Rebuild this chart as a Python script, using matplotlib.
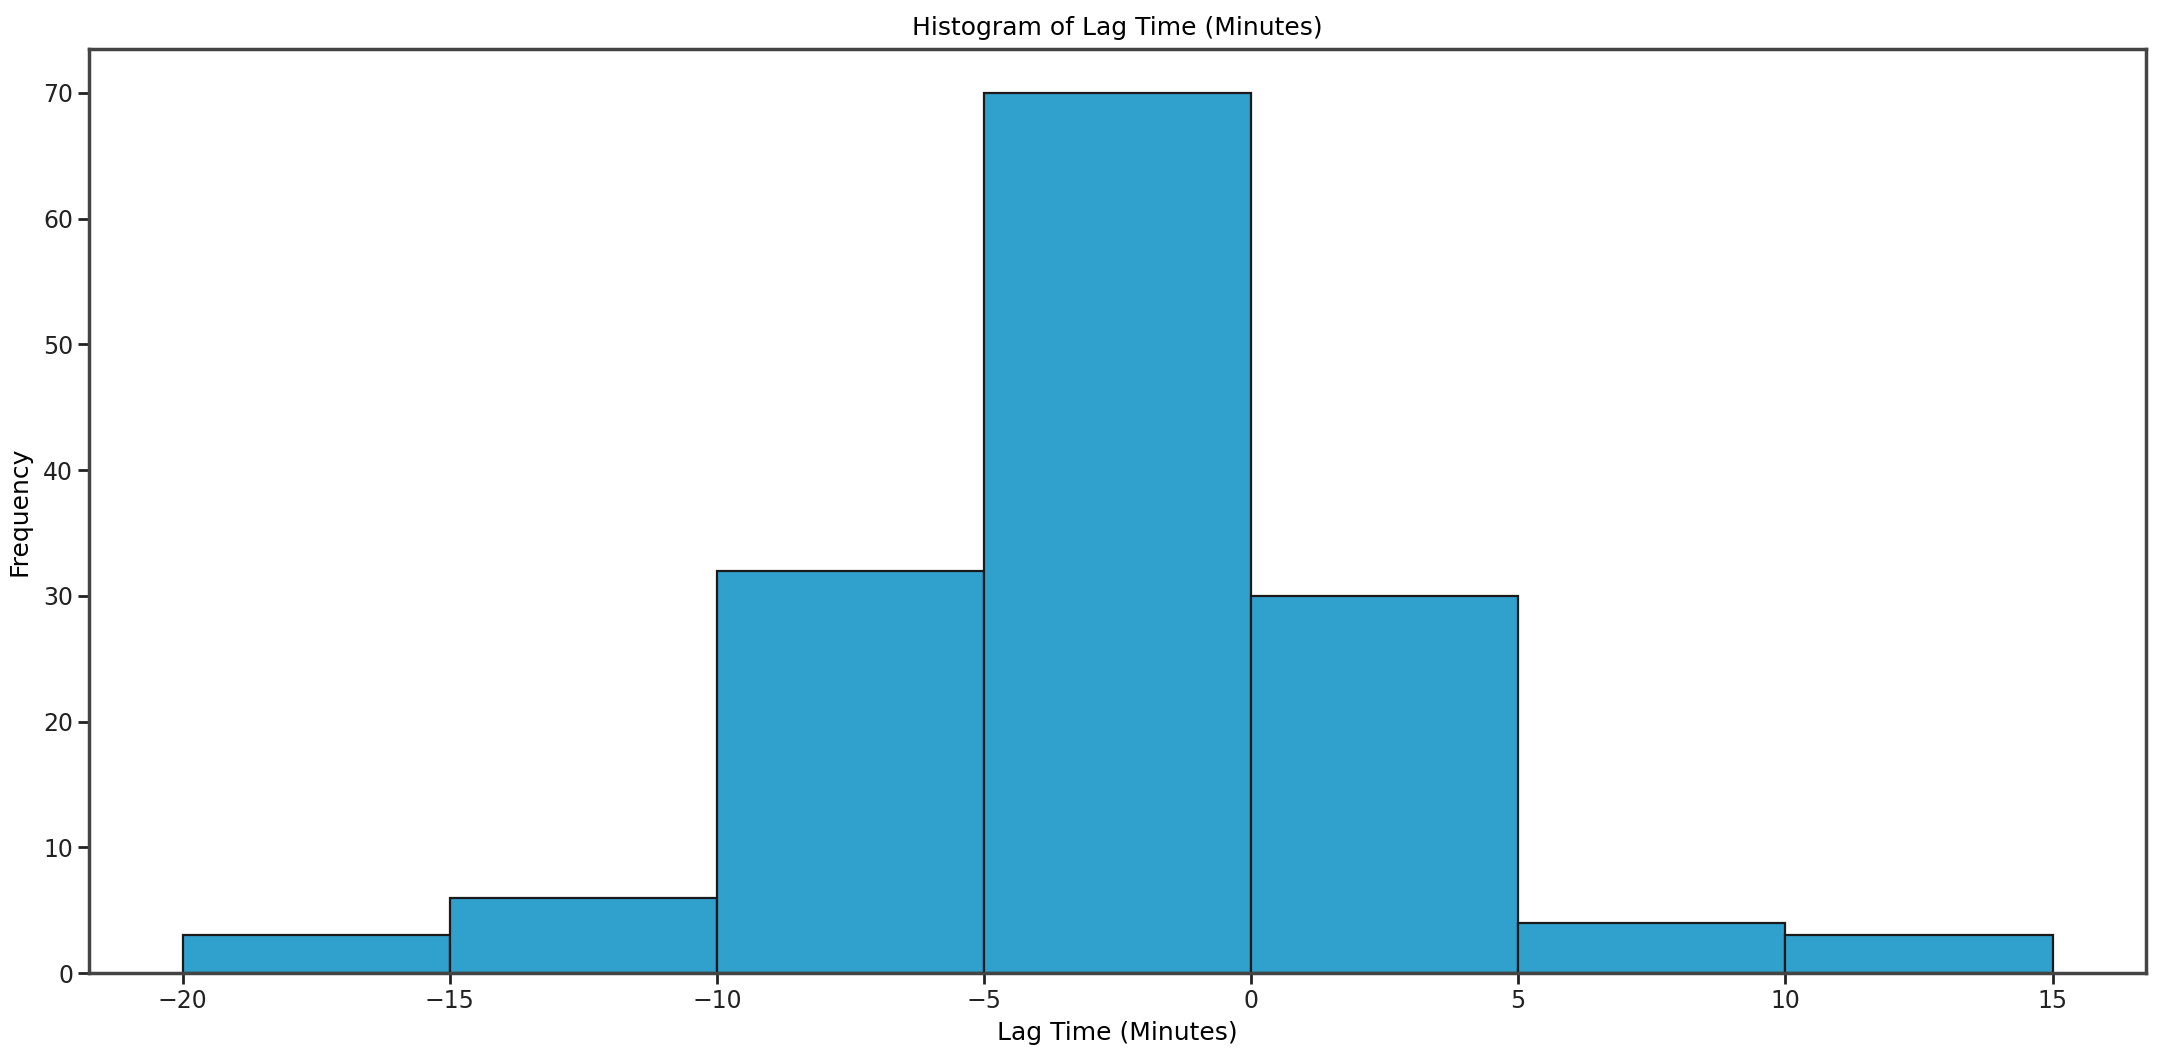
import matplotlib
matplotlib.use("Agg")
import matplotlib.pyplot as plt
import numpy as np

bin_edges = [-20, -15, -10, -5, 0, 5, 10, 15]
counts = [3, 6, 32, 70, 30, 4, 3]
title = "Histogram of Lag Time (Minutes)"
xlabel = "Lag Time (Minutes)"
ylabel = "Frequency"

fig = plt.figure(figsize=(21.62, 10.64), dpi=100)
ax = fig.add_axes([0.0412, 0.0855, 0.9514, 0.8685])

centers = [(a + b) / 2 for a, b in zip(bin_edges[:-1], bin_edges[1:])]
ax.hist(centers, bins=bin_edges, weights=counts, color="#30A0CD",
        edgecolor="#1a1a1a", linewidth=1.6)

ax.set_title(title, fontsize=18, pad=10)
ax.set_xlabel(xlabel, fontsize=18, labelpad=6)
ax.set_ylabel(ylabel, fontsize=18, labelpad=8)
ax.tick_params(labelsize=17, width=2, length=8, colors="#222222")
for s in ax.spines.values():
    s.set_linewidth(2.5)
    s.set_color("#444444")

fig.savefig("out.png", dpi=100)
